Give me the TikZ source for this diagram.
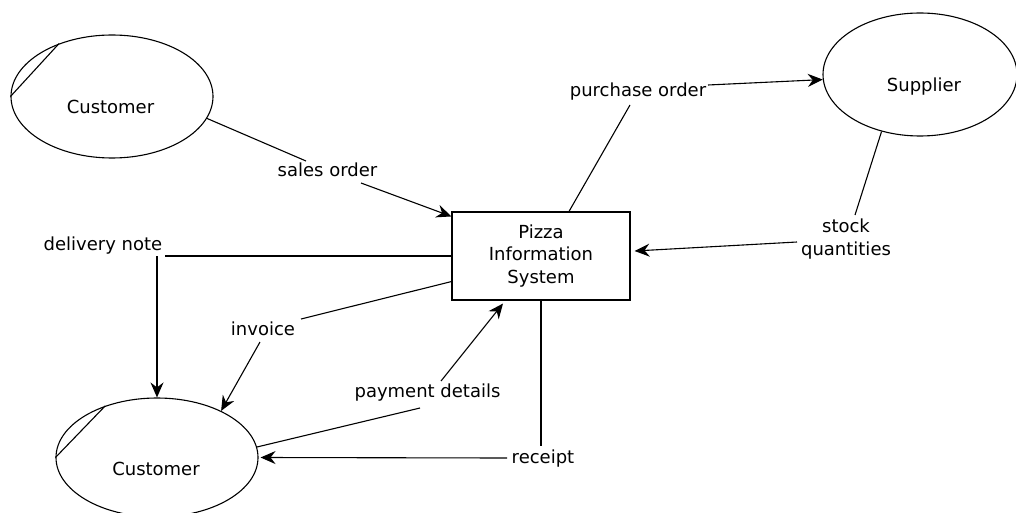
\documentclass[tikz,border=0pt]{standalone}
\usepackage{fontspec}
\setmainfont{DejaVu Sans}
\usetikzlibrary{shapes.geometric,arrows.meta,calc}

\tikzset{
  entity/.style={ellipse, draw, line width=1.1pt, inner sep=0pt},
  process/.style={rectangle, draw, line width=1.1pt, inner sep=0pt,
    minimum width=178pt, minimum height=88pt, align=center,
    font=\fontsize{18}{22.5}\selectfont},
  flowlabel/.style={inner sep=0pt, anchor=base, font=\fontsize{18}{22}\selectfont},
  flow/.style={line width=1.1pt},
  arrowflow/.style={flow, -{Stealth[length=15pt,width=13pt,inset=5pt]}},
}

\begin{document}
\begin{tikzpicture}[x=1pt,y=-1pt]
  \useasboundingbox (0,0) rectangle (1016,513);
  \clip (0,0) rectangle (1016,513);

  % external entities and the central process
  \node[entity, minimum width=202pt, minimum height=123pt] (cA) at (112,96.5) {};
  \node[entity, minimum width=202pt, minimum height=119pt] (cB) at (157,457.5) {};
  \node[entity, minimum width=194pt, minimum height=123pt] (sup) at (920,74.5) {};
  \node[process] (box) at (541,256) {Pizza\\Information\\System};

  % duplicate-entity marks
  \draw[flow] (cA.135) -- (cA.west);
  \draw[flow] (cB.135) -- (cB.west);

  % entity names
  \node[flowlabel] (cAname) at (110.5,114) {Customer};
  \node[flowlabel] (cBname) at (156,475) {Customer};
  \node[flowlabel] (supname) at (924,91.7) {Supplier};

  % flow labels
  \node[flowlabel] (so) at (327.5,176) {sales order};
  \node[flowlabel] (dn) at (103,250) {delivery note};
  \node[flowlabel] (inv) at (263,335) {invoice};
  \node[flowlabel] (pd) at (427.5,397) {payment details};
  \node[flowlabel] (rc) at (543,463) {receipt};
  \node[flowlabel] (po) at (638,97) {purchase order};
  \node[inner sep=0pt, align=center, font=\fontsize{18}{23}\selectfont] (sq) at (846,239) {stock\\quantities};

  % sales order
  \draw[flow] (cA.-13.5) -- ($(so.base)+(-21.5,-15)$);
  \draw[arrowflow] ($(so.base)+(33.5,7)$) -- ([yshift=-5pt]box.north west);

  % delivery note
  \draw[flow] (box.west) -- ($(dn.base)+(62,6)$);
  \draw[arrowflow] ($(dn.base)+(54,6)$) -- (cB.north);

  % invoice
  \draw[flow] ([yshift=19pt]box.south west) -- ($(inv.base)+(38,-16)$);
  \draw[arrowflow] ($(inv.base)+(-3,7)$) -- (cB.36);

  % payment details
  \draw[flow] (cB.6) -- ($(pd.base)+(-7.5,11)$);
  \draw[arrowflow] ($(pd.base)+(13.5,-16)$) -- ([xshift=-38pt,yshift=-3pt]box.south);

  % receipt
  \draw[flow] (box.south) -- ($(rc.base)+(-2,-17)$);
  \draw[arrowflow] ($(rc.base)+(-36,-5)$) -- ([xshift=2pt]cB.east);

  % purchase order
  \draw[flow] ([xshift=28pt]box.north) -- ($(po.base)+(-8,8)$);
  \draw[arrowflow] ($(po.base)+(70,-12)$) -- (sup.183);

  % stock quantities
  \draw[flow] (sup.236.5) -- ($(sq)+(9,-24)$);
  \draw[arrowflow] ($(sq)+(-49,3)$) -- ([xshift=4pt,yshift=5pt]box.east);
\end{tikzpicture}
\end{document}
